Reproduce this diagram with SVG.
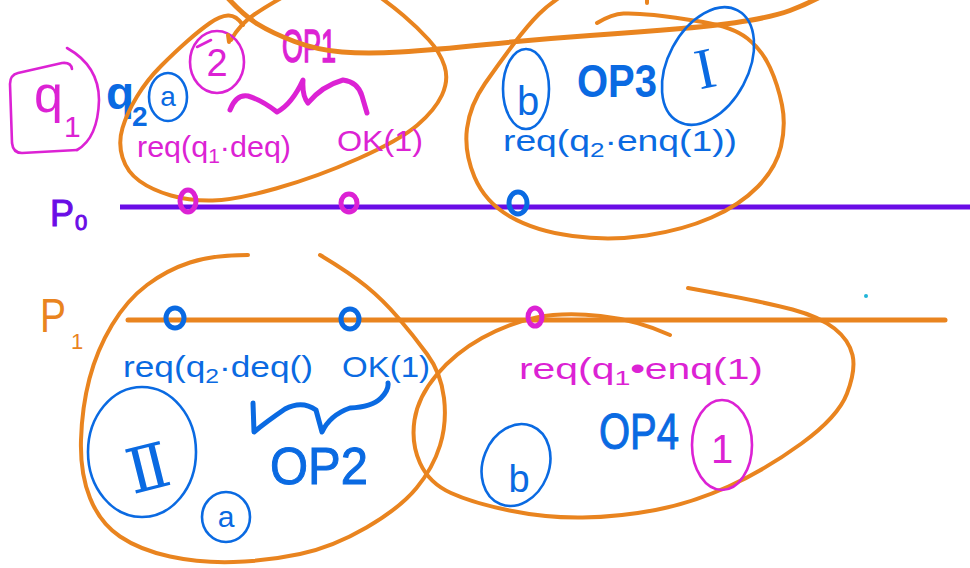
<svg xmlns="http://www.w3.org/2000/svg" width="970" height="568" viewBox="0 0 970 568">
<style>
.m{fill:none;stroke:#dc22d4;stroke-width:2.6;stroke-linecap:round;stroke-linejoin:round}
.b{fill:none;stroke:#0a6ae2;stroke-width:2.6;stroke-linecap:round;stroke-linejoin:round}
.o{fill:none;stroke:#e9841f;stroke-width:4;stroke-linecap:round;stroke-linejoin:round}
.dot{fill:none;stroke-width:5}
.tm{fill:#dc22d4;font-family:"Liberation Sans",Arial,sans-serif}
.tb{fill:#0a6ae2;font-family:"Liberation Sans",Arial,sans-serif}
.to{fill:#e9841f;font-family:"Liberation Sans",Arial,sans-serif}
.tp{fill:#6a0ce6;font-family:"Liberation Sans",Arial,sans-serif}
</style>
<rect width="970" height="568" fill="#ffffff"/>

<g id="timelines">
  <path d="M120,207 L970,207" fill="none" stroke="#6a0ce6" stroke-width="5"/>
  <path d="M128,320 L945,320" class="o" style="stroke-width:5"/>
  <g id="label-p0"><text class="tp" x="50" y="226" font-size="36" stroke="#6a0ce6" stroke-width="1">P</text><text class="tp" x="75" y="230" font-size="22" stroke="#6a0ce6" stroke-width="1">0</text></g>
  <g id="label-p1"><text class="to" x="40" y="332" font-size="48" textLength="26" lengthAdjust="spacingAndGlyphs">P</text><text class="to" x="71" y="349" font-size="22">1</text></g>
</g>

<g id="q1">
  <path class="m" d="M72,69 Q71,62 62,63 L18,73 Q10,75 10,84 L12,143 Q13,153 22,153 L77,150"/>
  <path class="m" d="M67,48 Q99,66 99,100 Q98,138 77,150"/>
  <text class="tm" x="34" y="112" font-size="52">q</text>
  <text class="tm" x="64" y="137" font-size="30">1</text>
</g>

<g id="q2">
  <text class="tb" x="106" y="109" font-size="46" font-weight="bold">q</text>
  <text class="tb" x="132" y="126" font-size="28" font-weight="bold">2</text>
</g>

<g id="op1">
  <path class="o" d="M243,25 Q236,15 228,15.5 Q220,16 210,23 Q200,30 187.5,41 Q175,52 161,66 Q147,80 137,96.5 Q127,113 122.5,128 Q118,143 122.5,157.5 Q127,172 139.5,181 Q152,190 171,195.5 Q190,201 212.5,200.5 Q235,200 276,188.5 Q317,177 358.5,158.5 Q400,140 417.5,125 Q435,110 442,95 Q449,80 444.5,66 Q440,52 428.5,39.5 Q417,27 403.5,15.5 Q390,4 370,-10"/>
  <path class="o" d="M231,40 Q240,24 255,14 Q270,4 292,-8"/>
  <ellipse class="b" cx="168" cy="97" rx="19" ry="24"/>
  <text class="tb" x="168" y="106" font-size="28" text-anchor="middle">a</text>
  <ellipse class="m" cx="217" cy="62" rx="27" ry="31"/>
  <path class="m" d="M197,47 L211,40"/>
  <text class="tm" x="217" y="76" font-size="38" text-anchor="middle">2</text>
  <text class="tm" x="282" y="62" font-size="46" textLength="54" lengthAdjust="spacingAndGlyphs" stroke="#dc22d4" stroke-width="1.5">OP1</text>
  <path class="m" style="stroke-width:5" d="M230,110 Q236,94 248,96 Q262,100 277,112 Q292,104 303,80 Q302,96 308,103 Q322,86 343,80 Q358,82 362,96 L367,113"/>
  <text class="tm" x="137" y="157" font-size="29" textLength="154" lengthAdjust="spacingAndGlyphs">req(q<tspan font-size="20" dy="6">1</tspan><tspan dy="-6">·deq)</tspan></text>
  <text class="tm" x="337" y="151" font-size="30" textLength="86" lengthAdjust="spacingAndGlyphs">OK(1)</text>
  <ellipse class="dot" cx="188" cy="201" rx="8" ry="11" stroke="#dc22d4"/>
  <ellipse class="dot" cx="349" cy="203" rx="8" ry="9" stroke="#dc22d4"/>
</g>

<g id="top-stroke">
  <path class="o" style="stroke-width:5" d="M226,-4 Q243,15 257.5,24 Q272,33 294.5,41.5 Q317,50 342,52 Q367,54 400,52 Q433,50 486.5,44.5 Q540,39 590,35.5 Q640,32 681.5,28.5 Q723,25 749,20.5 Q775,16 790,10.5 Q805,5 822,-4"/>
  <path class="o" d="M228,35 L229,42"/>
  <path class="o" d="M647,-2 L647,3"/>
</g>

<g id="op3">
  <path class="o" d="M597,23 Q612,14 623.5,13.5 Q635,13 654,15 Q673,17 703,22 Q733,27 747.5,38.5 Q762,50 770,67.5 Q778,85 782,105 Q786,125 781,146.5 Q776,168 758,186.5 Q740,205 711.5,217.5 Q683,230 646.5,235.5 Q610,241 572.5,236 Q535,231 510,216.5 Q485,202 474.5,177 Q464,152 467,128.5 Q470,105 485,83.5 Q500,62 514,43.5 Q528,25 539,14 Q550,3 568,-8"/>
  <ellipse class="b" cx="526" cy="89" rx="23" ry="40"/>
  <text class="tb" x="528" y="115" font-size="40" text-anchor="middle">b</text>
  <text class="tb" x="577" y="97" font-size="46" font-weight="bold" textLength="80" lengthAdjust="spacingAndGlyphs">OP3</text>
  <ellipse class="b" cx="708" cy="66" rx="40" ry="63" transform="rotate(28 708 66)"/>
  <text class="tb" x="705" y="88" font-size="58" text-anchor="middle" style="font-family:'Liberation Serif',serif" transform="rotate(-12 705 68)">I</text>
  <text class="tb" x="503" y="151" font-size="30" textLength="234" lengthAdjust="spacingAndGlyphs">req(q<tspan font-size="21" dy="6">2</tspan><tspan dy="-6">·enq(1))</tspan></text>
  <ellipse class="dot" cx="518" cy="203" rx="9" ry="11" stroke="#0a6ae2"/>
</g>

<g id="op2">
  <path class="o" d="M248,255 Q213,255 190,262.5 Q167,270 147,285 Q127,300 112,325 Q97,350 89.5,378.5 Q82,407 81,440 Q80,473 90,498 Q100,523 120,536.5 Q140,550 170,556.5 Q200,563 233.5,562 Q267,561 300,554 Q333,547 366.5,527.5 Q400,508 416.5,488 Q433,468 440,445.5 Q447,423 444,398 Q441,373 427,354 Q413,335 398,317.5 Q383,300 366.5,286.5 Q350,273 320,255"/>
  <ellipse class="dot" cx="175" cy="318" rx="9" ry="10" stroke="#0a6ae2"/>
  <ellipse class="dot" cx="350" cy="319" rx="9" ry="10" stroke="#0a6ae2"/>
  <text class="tb" x="123" y="377" font-size="30" textLength="190" lengthAdjust="spacingAndGlyphs">req(q<tspan font-size="21" dy="6">2</tspan><tspan dy="-6">·deq()</tspan></text>
  <text class="tb" x="342" y="377" font-size="30" textLength="88" lengthAdjust="spacingAndGlyphs">OK(1)</text>
  <ellipse class="b" cx="142" cy="452" rx="54" ry="65"/>
  <text class="tb" x="146" y="490" font-size="62" text-anchor="middle" style="font-family:'DejaVu Serif',serif" transform="rotate(-14 146 460)">Ⅱ</text>
  <path class="b" style="stroke-width:5" d="M253,403 L254,432 Q266,422 285,409 Q302,400 316,410 L322,432 Q330,415 350,408 Q372,407 381,398 Q389,390 388,383"/>
  <text class="tb" x="270" y="484" font-size="52" textLength="98" lengthAdjust="spacingAndGlyphs" stroke="#0a6ae2" stroke-width="1">OP2</text>
  <ellipse class="b" cx="226" cy="517" rx="24" ry="25"/>
  <text class="tb" x="226" y="527" font-size="30" text-anchor="middle">a</text>
</g>

<g id="op4">
  <path class="o" d="M670,335 Q637,320 600.5,316 Q564,312 536.5,317.5 Q509,323 482,338 Q455,353 436.5,375 Q418,397 414.5,420 Q411,443 420,463 Q429,483 451,493 Q473,503 509.5,510.5 Q546,518 582.5,517.5 Q619,517 655.5,510 Q692,503 728.5,486.5 Q765,470 801.5,443.5 Q838,417 847,393.5 Q856,370 852.5,355 Q849,340 834.5,328.5 Q820,317 792.5,309.5 Q765,302 688,288"/>
  <ellipse class="dot" cx="535" cy="317" rx="7" ry="9" stroke="#dc22d4"/>
  <text class="tm" x="519" y="379" font-size="30" textLength="244" lengthAdjust="spacingAndGlyphs">req(q<tspan font-size="21" dy="6">1</tspan><tspan dy="-6" font-weight="bold">•</tspan>enq(1)</text>
  <text class="tb" x="599" y="449" font-size="50" textLength="80" lengthAdjust="spacingAndGlyphs" stroke="#0a6ae2" stroke-width="1">OP4</text>
  <ellipse class="m" cx="722" cy="445" rx="30" ry="45"/>
  <text class="tm" x="722" y="463" font-size="40" text-anchor="middle">1</text>
  <ellipse class="b" cx="516" cy="465" rx="33" ry="42" transform="rotate(22 516 465)"/>
  <text class="tb" x="519" y="492" font-size="38" text-anchor="middle">b</text>
  <circle cx="866" cy="296" r="2" fill="#22b5d8"/>
</g>
</svg>
